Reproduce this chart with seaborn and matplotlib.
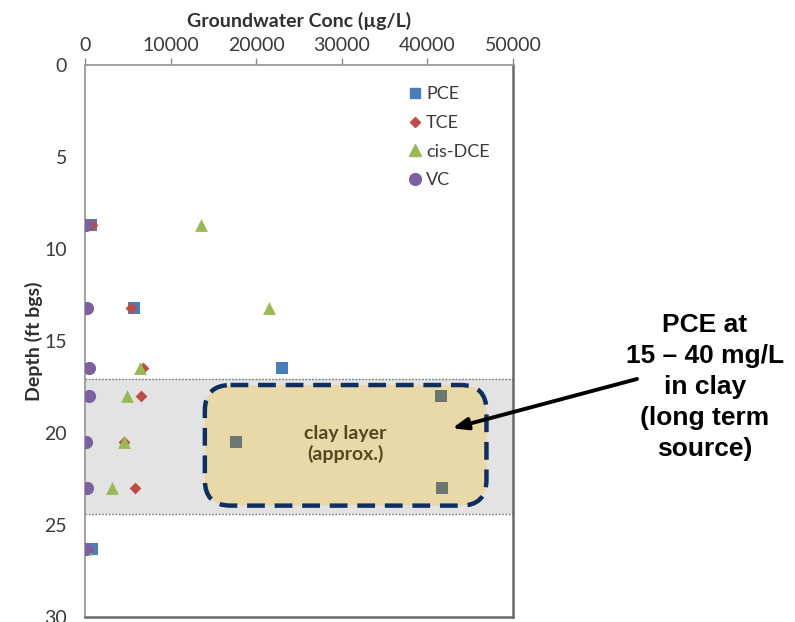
import matplotlib
matplotlib.use("Agg")
import matplotlib.pyplot as plt
from matplotlib.patches import FancyBboxPatch
import numpy as np
import pandas as pd
import seaborn as sns

# Sampling depths (ft below ground surface)
depths = [8.7, 13.2, 16.5, 18.0, 20.5, 23.0, 26.3]

# Groundwater concentrations (ug/L) at each depth
pce = [700, 5700, 23000, 41600, 17600, 41700, 800]
tce = [780, 5400, 6800, 6600, 4500, 5800, 400]
cis_dce = [13600, 21500, 6400, 4900, 4500, 3100, 100]
vc = [100, 270, 500, 470, 120, 230, 50]

compounds = ["PCE", "TCE", "cis-DCE", "VC"]
colors = {"PCE": "#4a7ebb", "TCE": "#be4b48", "cis-DCE": "#98b954", "VC": "#7d60a0"}
markers = {"PCE": "s", "TCE": "D", "cis-DCE": "^", "VC": "o"}
sizes = {"PCE": 64, "TCE": 36, "cis-DCE": 85, "VC": 90}

# Clay layer extents (ft bgs) and highlighted region
clay_top, clay_bottom = 17.05, 24.4
box_x0, box_x1 = 14000, 46900
box_y0, box_y1 = 17.4, 23.95

df = pd.DataFrame({
    "depth": depths * 4,
    "conc": pce + tce + cis_dce + vc,
    "compound": [c for c in compounds for _ in depths],
})

sns.set_style("white")
plt.rcParams["font.family"] = ["Lato", "DejaVu Sans"]

fig = plt.figure(figsize=(7.95, 6.22), dpi=100)
ax = fig.add_axes([85 / 795, 1 - 617 / 622, 428 / 795, (617 - 64.7) / 622])

# clay layer band
ax.axhspan(clay_top, clay_bottom, color="#e3e3e3", zorder=0, lw=0)
for yb in (clay_top, clay_bottom):
    ax.axhline(yb, color="#777777", lw=1.0, ls=(0, (1.2, 1.2)), zorder=1)

# approximate clay layer outline (rounded corners scaled to the axes aspect)
box = FancyBboxPatch((box_x0, box_y0), box_x1 - box_x0, box_y1 - box_y0,
                     boxstyle="round,pad=0,rounding_size=3000",
                     facecolor="#e9d9a8", edgecolor="#0e2f5f", lw=3.2,
                     ls=(0, (4, 2.2)), zorder=2)
box.set_mutation_aspect((30 / 552) / (50000 / 428))
ax.add_patch(box)

ax.text((box_x0 + box_x1) / 2, 20.6, "clay layer\n(approx.)",
        ha="center", va="center", fontsize=14, fontweight="bold",
        color="#54461e", linespacing=1.2, zorder=3)

for comp in compounds:
    sub = df[df["compound"] == comp]
    sns.scatterplot(data=sub, x="conc", y="depth", color=colors[comp],
                    marker=markers[comp], s=sizes[comp], linewidth=0,
                    ax=ax, zorder=4, legend=False)

# PCE samples seen through the clay outline
inside = df[(df["compound"] == "PCE") & (df["conc"] > box_x0) & (df["conc"] < box_x1)
            & (df["depth"] > box_y0) & (df["depth"] < box_y1)]
sns.scatterplot(data=inside, x="conc", y="depth", color="#6b7770", marker="s",
                s=sizes["PCE"], linewidth=0, ax=ax, zorder=5, legend=False)

ax.set_xlim(0, 50000)
ax.set_ylim(30, 0)
ax.set_xticks(np.arange(0, 50001, 10000))
ax.set_yticks(np.arange(0, 31, 5))
ax.xaxis.tick_top()
ax.xaxis.set_label_position("top")
ax.tick_params(axis="both", which="both", direction="out", length=5, width=1,
               color="#8a8a8a", labelsize=14, labelcolor="#3a3a3a")
ax.tick_params(axis="x", pad=3)
ax.tick_params(axis="y", pad=8)
ax.set_xlabel("Groundwater Conc (\u00b5g/L)", fontsize=14, fontweight="bold",
              color="#303030", labelpad=7)
ax.set_ylabel("Depth (ft bgs)", fontsize=14, fontweight="bold",
              color="#303030", labelpad=1)
for side in ("left", "top"):
    ax.spines[side].set_color("#9a9a9a")
    ax.spines[side].set_linewidth(1.3)
for side in ("right", "bottom"):
    ax.spines[side].set_color("#6a6a6a")
    ax.spines[side].set_linewidth(1.8)
ax.grid(False)

handles = [plt.Line2D([], [], ls="", marker=markers[c], color=colors[c],
                      markersize={"PCE": 7.5, "TCE": 5.5, "cis-DCE": 8, "VC": 8.5}[c])
           for c in compounds]
ax.legend(handles, compounds, loc="upper left", bbox_to_anchor=(0.715, 0.99),
          frameon=False, fontsize=13, handletextpad=0.15, labelspacing=0.7,
          handlelength=0.9, labelcolor="#3a3a3a")

# callout for the clay source
ax.annotate("", xy=(42900, 19.75), xycoords="data",
            xytext=(637 / 795, 1 - 379 / 622), textcoords="figure fraction",
            arrowprops=dict(arrowstyle="-|>,head_length=0.9,head_width=0.35",
                            color="black", lw=2.8, shrinkA=0, shrinkB=0),
            annotation_clip=False)
fig.text(705 / 795, 1 - 387 / 622, "PCE at\n15 \u2013 40 mg/L\nin clay\n(long term\nsource)",
         ha="center", va="center", fontsize=19, fontweight="bold",
         family=["Liberation Sans", "DejaVu Sans"], linespacing=1.38, color="black")

fig.savefig("out.png", dpi=100)
